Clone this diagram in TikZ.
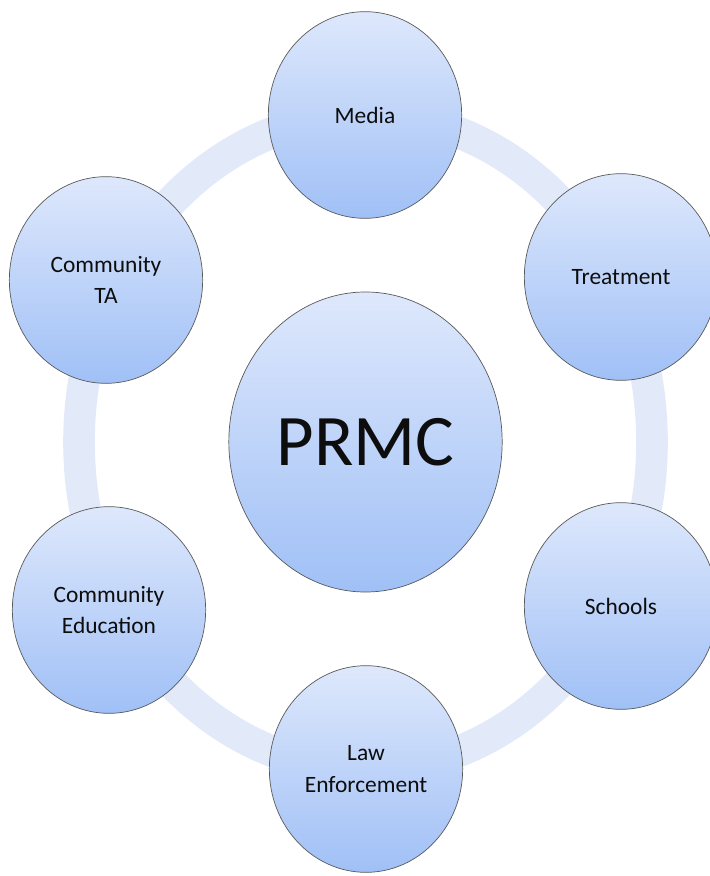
\documentclass[tikz,border=0pt]{standalone}
\usepackage{fontspec}
\setmainfont{Carlito}
\usepackage{tikz}
\usepackage{xcolor}
\usetikzlibrary{
    shapes.geometric,
    positioning
}
\definecolor{ringblue}{RGB}{226,234,250}
\definecolor{topblue}{RGB}{222,232,252}
\definecolor{botblue}{RGB}{160,192,246}
\tikzset{
    satellite/.style={ellipse, draw=black!65, line width=0.6pt, top color=topblue, bottom color=botblue,
        minimum width=5.8cm, minimum height=6.2cm, inner sep=0pt, align=center,
        font=\fontsize{20}{27}\selectfont, text=black!95},
    hub/.style={satellite, minimum width=8.2cm, minimum height=9cm, font=\fontsize{62}{70}\selectfont},
    ring/.style={draw=ringblue, line width=27pt}
}

\begin{document}
\begin{tikzpicture}[x=0.03cm, y=-0.03cm]
                        \useasboundingbox (0, 0) rectangle (710, 876);

                        \draw[ring] (365.5, 442) ellipse [x radius=286.5, y radius=327];

                        \node[hub] (prmc) at (365.5, 442) {PRMC};

                        \node[satellite] (media) at (365, 115) {Media};
                        \node[satellite] (treatment) at (621, 277) {Treatment};
                        \node[satellite] (schools) at (621, 606) {Schools};
                        \node[satellite] (law) at (366, 769) {Law\\Enforcement};
                        \node[satellite] (commed) at (109, 610) {Community\\Education};
                        \node[satellite] (commta) at (106, 280) {Community\\TA};
                    \end{tikzpicture}
\end{document}
